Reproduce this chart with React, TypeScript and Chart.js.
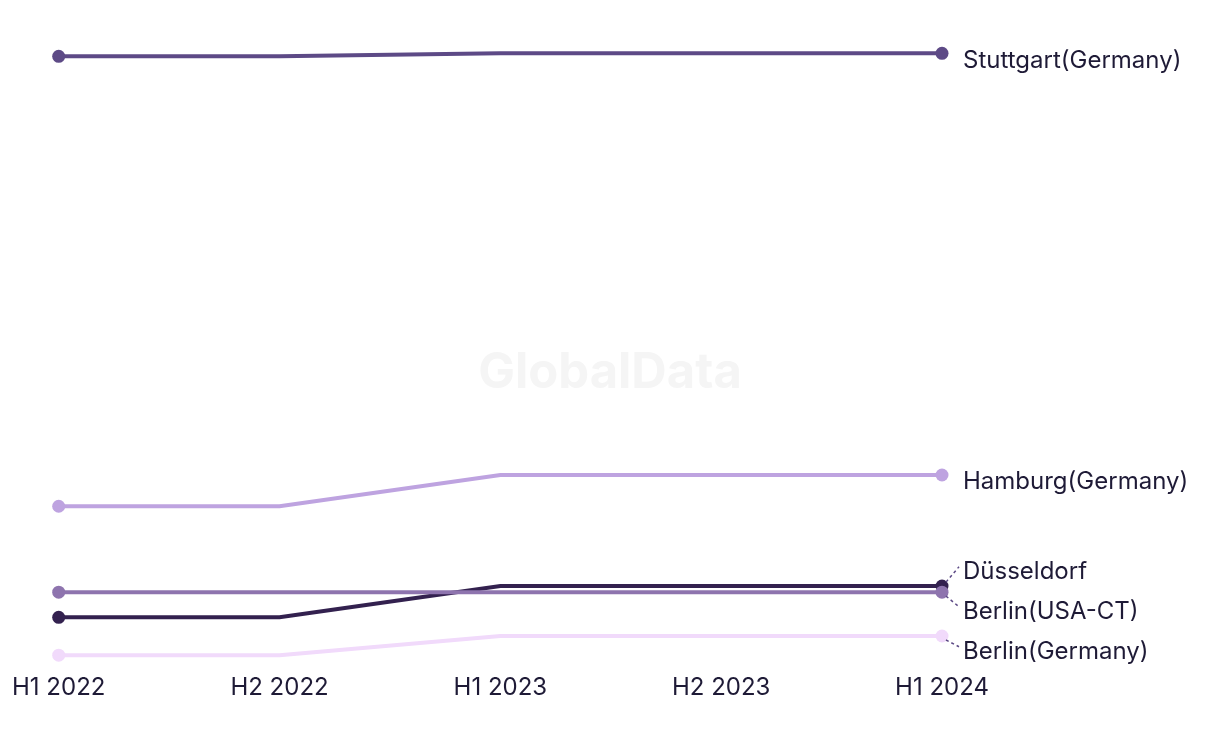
import React, { useEffect, useRef } from "react";
import { Chart, registerables } from "chart.js";

Chart.register(...registerables);

const periods = ["H1 2022", "H2 2022", "H1 2023", "H2 2023", "H1 2024"];
const seriesNames = ["Stuttgart(Germany)", "Hamburg(Germany)", "Berlin(USA-CT)", "Düsseldorf", "Berlin(Germany)"];
const stuttgart = [100.7, 100.7, 101.2, 101.2, 101.2];
const hamburg = [25.8, 25.8, 31.0, 31.0, 31.0];
const berlinUsa = [11.5, 11.5, 11.5, 11.5, 11.5];
const duesseldorf = [7.3, 7.3, 12.5, 12.5, 12.5];
const berlinGermany = [1.0, 1.0, 4.2, 4.2, 4.2];
const seriesValues = [stuttgart, hamburg, berlinUsa, duesseldorf, berlinGermany];
const seriesColors = ["#5d4a86", "#bea3e0", "#8e74ae", "#33214f", "#f1dafb"];
const drawOrder = [0, 1, 2, 3, 4];

const FONT = "Inter, 'Noto Sans', sans-serif";

const endLabels = {
  id: "endLabels",
  afterDatasetsDraw(chart: any) {
    const ctx = chart.ctx;
    const items: any[] = [];
    chart.data.datasets.forEach((ds: any, i: number) => {
      const meta = chart.getDatasetMeta(i);
      const pt = meta.data[meta.data.length - 1];
      items.push({ label: ds.label, px: pt.x, py: pt.y, y: pt.y + 6 });
    });
    items.sort((a, b) => a.y - b.y);
    const gap = 40;
    let clusters = items.map((it) => ({ members: [it], center: it.y }));
    let changed = true;
    while (changed) {
      changed = false;
      for (let i = 0; i < clusters.length - 1; i++) {
        const a = clusters[i];
        const b = clusters[i + 1];
        const aBottom = a.center + ((a.members.length - 1) * gap) / 2;
        const bTop = b.center - ((b.members.length - 1) * gap) / 2;
        if (bTop - aBottom < gap) {
          const members = a.members.concat(b.members);
          const center = members.reduce((s, m) => s + m.y, 0) / members.length;
          clusters.splice(i, 2, { members, center });
          changed = true;
          break;
        }
      }
    }
    clusters.forEach((c) => {
      const n = c.members.length;
      c.members.forEach((m, k) => {
        m.ly = c.center + (k - (n - 1) / 2) * gap;
      });
    });
    ctx.save();
    items.forEach((it) => {
      const tx = it.px + 21;
      const ty = it.ly - 4;
      if (Math.abs(ty - it.py) > 6) {
        ctx.beginPath();
        ctx.setLineDash([3, 3]);
        ctx.strokeStyle = "#5d4a86";
        ctx.lineWidth = 1.5;
        ctx.moveTo(it.px + 4, it.py + (ty < it.py ? -4 : 4));
        ctx.lineTo(tx - 4, ty);
        ctx.stroke();
        ctx.setLineDash([]);
      }
      ctx.fillStyle = "#1e1a36";
      ctx.font = "24px " + FONT;
      ctx.textAlign = "left";
      ctx.textBaseline = "middle";
      ctx.fillText(it.label, tx, it.ly + 1);
    });
    ctx.restore();
  },
};

const watermark = {
  id: "watermark",
  beforeDatasetsDraw(chart: any) {
    const ctx = chart.ctx;
    ctx.save();
    ctx.fillStyle = "#f5f5f5";
    ctx.font = "bold 49px " + FONT;
    ctx.textAlign = "center";
    ctx.textBaseline = "middle";
    ctx.fillText("GlobalData", 610, 373);
    ctx.restore();
  },
};

export default function App() {
  const ref = useRef<HTMLCanvasElement | null>(null);
  useEffect(() => {
    if (!ref.current) return;
    const chart = new Chart(ref.current, {
      type: "line",
      data: {
        labels: periods,
        datasets: drawOrder.map((i) => ({
          label: seriesNames[i],
          data: seriesValues[i],
          borderColor: seriesColors[i],
          backgroundColor: seriesColors[i],
          borderWidth: 4,
          pointRadius: periods.map((_, k) => (k === 0 || k === periods.length - 1 ? 6.5 : 0)),
          pointHoverRadius: 0,
          pointBorderWidth: 0,
          tension: 0,
          clip: false as any,
        })),
      },
      options: {
        animation: false,
        responsive: false,
        maintainAspectRatio: false,
        layout: { padding: { left: 58, right: 278, top: 0, bottom: 30 } },
        plugins: { legend: { display: false }, tooltip: { enabled: false } },
        scales: {
          x: {
            offset: false,
            grid: { display: false, drawTicks: false },
            border: { display: false },
            ticks: {
              color: "#1e1a36",
              font: { family: FONT, size: 24 },
              padding: 12,
              maxRotation: 0,
              autoSkip: false,
            },
          },
          y: {
            display: false,
            min: 0,
            max: 109,
          },
        },
      },
      plugins: [watermark, endLabels],
    });
    return () => chart.destroy();
  }, []);
  return (
    <div style={{ position: "absolute", left: 0, top: 0, width: 1220, height: 744, background: "#fff" }}>
      <canvas ref={ref} width={1220} height={744} style={{ display: "block" }} />
    </div>
  );
}
